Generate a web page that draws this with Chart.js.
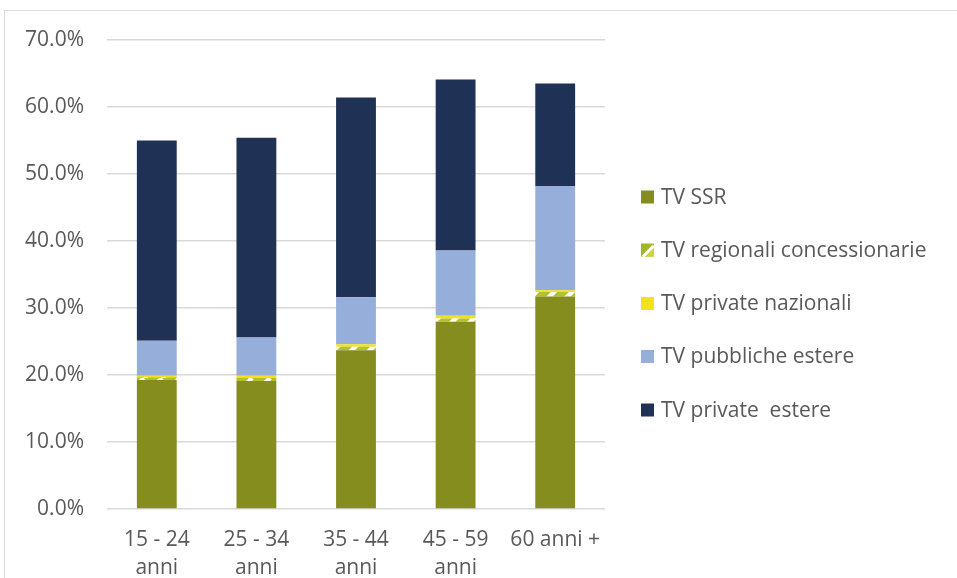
<!DOCTYPE html>
<html>
<head>
<meta charset="utf-8">
<script src="https://cdn.jsdelivr.net/npm/chart.js@4.4.1/dist/chart.umd.min.js"></script>
<style>
  html, body { margin: 0; padding: 0; background: #fff; }
  #wrap { position: relative; width: 957px; height: 578px; overflow: hidden; }
  #frame { position: absolute; left: 4px; top: 10px; width: 1100px; height: 900px;
           border: 1px solid #d9d9d9; box-sizing: border-box; pointer-events: none; }
  canvas { position: absolute; left: 0; top: 0; }
</style>
</head>
<body>
<div id="wrap">
  <div id="frame"></div>
  <canvas id="chart" width="957" height="578"></canvas>
</div>
<script>
// Fasce d'età
const categories = [["15 - 24", "anni"], ["25 - 34", "anni"], ["35 - 44", "anni"], ["45 - 59", "anni"], "60 anni +"];

// Quote di ascolto (%) per tipo di emittente
const tvSSR            = [19.25, 19.1, 23.7, 27.95, 31.7];
const tvRegionali      = [0.4, 0.45, 0.5, 0.5, 0.7];
const tvPrivateNaz     = [0.25, 0.35, 0.4, 0.4, 0.25];
const tvPubblicheEst   = [5.2, 5.7, 7.0, 9.75, 15.55];
const tvPrivateEst     = [29.9, 29.8, 29.8, 25.5, 15.3];

const seriesNames = ["TV SSR", "TV regionali concessionarie", "TV private nazionali", "TV pubbliche estere", "TV private  estere"];

const yTicks = [0, 10, 20, 30, 40, 50, 60, 70];

const FONT = "'Open Sans', 'Liberation Sans', sans-serif";
const TEXT = "#595959";

// Striped fill for the regional broadcasters
function makeStripes() {
  const c = document.createElement("canvas");
  const s = 18;
  c.width = s; c.height = s;
  const g = c.getContext("2d");
  g.fillStyle = "#b3c12b";
  g.fillRect(0, 0, s, s);
  g.strokeStyle = "#ffffff";
  g.lineWidth = 4.5;
  g.beginPath();
  for (let k = -1; k <= 1; k++) {
    g.moveTo(k * s, s);
    g.lineTo(k * s + s, 0);
  }
  g.stroke();
  return g.createPattern(c, "repeat");
}

const ctx = document.getElementById("chart").getContext("2d");
const stripes = makeStripes();

const colors = ["#868d1f", stripes, "#f2e21b", "#95afda", "#1f3154"];
const values = [tvSSR, tvRegionali, tvPrivateNaz, tvPubblicheEst, tvPrivateEst];

// Legend drawn at the right of the plot
const sideLegend = {
  id: "sideLegend",
  afterDraw(chart) {
    const g = chart.ctx;
    const x0 = 641, box = 13, textX = 661;
    const rows = [197, 250, 303.5, 356.5, 410];
    g.save();
    g.font = "21px " + FONT;
    g.textBaseline = "middle";
    g.textAlign = "left";
    chart.data.datasets.forEach((ds, i) => {
      const cy = rows[i];
      const top = cy - box / 2;
      if (i === 1) {
        g.fillStyle = "#a3b529";
        g.fillRect(x0, top, box, box);
        g.fillStyle = "#c9d33a";
        g.beginPath();
        g.moveTo(x0 + box, top + 3);
        g.lineTo(x0 + box, top + box);
        g.lineTo(x0 + 3, top + box);
        g.closePath();
        g.fill();
        g.strokeStyle = "#ffffff";
        g.lineWidth = 3;
        g.beginPath();
        g.moveTo(x0 + 2, top + box);
        g.lineTo(x0 + box, top + 2);
        g.stroke();
      } else {
        g.fillStyle = ds.backgroundColor;
        g.fillRect(x0, top, box, box);
      }
      g.fillStyle = TEXT;
      g.fillText(ds.label, textX, cy + 1);
    });
    g.restore();
  }
};

new Chart(ctx, {
  type: "bar",
  data: {
    labels: categories,
    datasets: values.map((v, i) => ({
      label: seriesNames[i],
      data: v,
      backgroundColor: colors[i],
      borderWidth: 0,
      barPercentage: 0.4,
      categoryPercentage: 1.0
    }))
  },
  options: {
    responsive: false,
    animation: false,
    layout: { padding: { left: 0, top: 40, right: 352, bottom: 0 } },
    plugins: {
      legend: { display: false },
      tooltip: { enabled: false }
    },
    scales: {
      x: {
        stacked: true,
        grid: { display: false, drawTicks: false },
        border: { display: false },
        ticks: {
          color: TEXT,
          padding: 17,
          maxRotation: 0,
          autoSkip: false,
          font: { family: FONT, size: 21, lineHeight: 1.33 }
        },
        afterFit(s) { s.height = 69; }
      },
      y: {
        stacked: true,
        min: 0,
        max: 70,
        afterBuildTicks(s) { s.ticks = yTicks.map(v => ({ value: v })); },
        grid: { color: "#d9d9d9", lineWidth: 1.6, drawTicks: false },
        border: { display: false },
        ticks: {
          color: TEXT,
          padding: 23,
          font: { family: FONT, size: 21 },
          callback: v => v.toFixed(1) + "%"
        },
        afterFit(s) { s.width = 107; }
      }
    }
  },
  plugins: [sideLegend]
});
</script>
</body>
</html>
